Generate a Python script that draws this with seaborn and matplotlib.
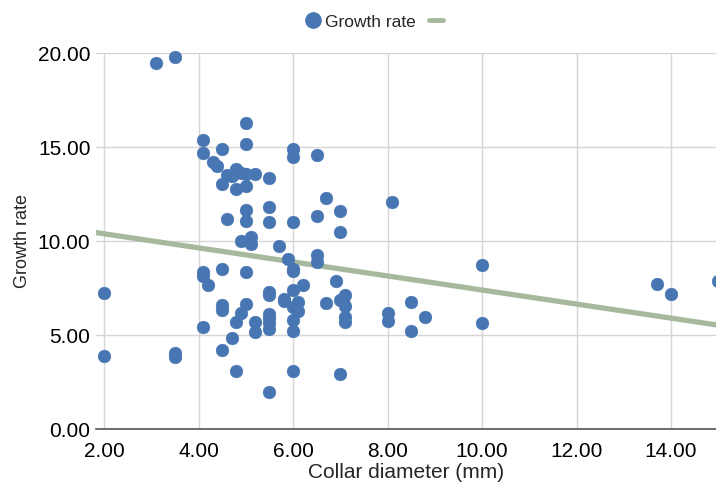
import numpy as np
import pandas as pd
import seaborn as sns
import matplotlib.pyplot as plt
from matplotlib.lines import Line2D

# values
collar_diameter = [3.1, 3.5, 5.0, 4.1, 5.0, 6.0, 6.0, 4.1, 4.5, 4.3,
                   4.4, 4.8, 4.6, 4.7, 4.9, 5.0, 5.2, 5.5, 4.5, 4.8,
                   5.0, 5.0, 5.5, 4.6, 5.0, 5.5, 6.0, 6.5, 6.7, 7.0,
                   6.5, 7.0, 4.9, 5.1, 5.1, 5.7, 5.9, 6.5, 6.5, 6.0,
                   6.0, 4.1, 4.1, 4.2, 4.5, 5.0, 6.9, 6.2, 6.0, 5.5,
                   5.5, 5.8, 5.8, 6.1, 6.0, 6.1, 6.7, 7.1, 7.0, 7.05,
                   7.1, 7.1, 7.1, 4.5, 4.5, 5.0, 4.9, 4.8, 5.2, 5.2,
                   5.5, 5.5, 5.5, 5.5, 6.0, 6.0, 4.1, 4.7, 4.5, 4.8,
                   6.0, 7.0, 5.5, 2.0, 2.0, 3.5, 3.5, 8.1, 10.0, 8.5,
                   8.0, 8.0, 8.8, 8.5, 10.0, 13.7, 14.0, 15.0]
growth_rate = [19.5, 19.8, 16.3, 15.4, 15.2, 14.9, 14.5, 14.7, 14.9, 14.2,
               14.0, 13.85, 13.5, 13.45, 13.65, 13.6, 13.6, 13.35, 13.05, 12.8,
               12.95, 11.65, 11.8, 11.2, 11.1, 11.05, 11.0, 14.6, 12.3, 11.6,
               11.35, 10.5, 10.0, 10.25, 9.85, 9.75, 9.05, 9.25, 8.9, 8.55,
               8.4, 8.35, 8.15, 7.7, 8.55, 8.35, 7.9, 7.65, 7.4, 7.3,
               7.15, 6.95, 6.8, 6.75, 6.5, 6.3, 6.7, 7.15, 6.9, 6.8,
               6.55, 5.95, 5.7, 6.6, 6.35, 6.65, 6.2, 5.7, 5.7, 5.2,
               6.15, 5.9, 5.65, 5.35, 5.8, 5.25, 5.45, 4.85, 4.2, 3.1,
               3.1, 2.95, 2.0, 7.25, 3.9, 4.05, 3.85, 12.1, 8.75, 6.75,
               6.2, 5.75, 5.95, 5.25, 5.65, 7.75, 7.2, 7.9]
x_ticks = [2, 4, 6, 8, 10, 12, 14]
y_ticks = [0, 5, 10, 15, 20]

df = pd.DataFrame({'Collar diameter (mm)': collar_diameter, 'Growth rate': growth_rate})

dot_c = '#4876b3'
fit_c = '#a6b99d'

sns.set_style('whitegrid')
plt.rcParams['font.family'] = ['Liberation Sans', 'DejaVu Sans']

fig = plt.figure(figsize=(7.16, 4.86), dpi=100)
ax = fig.add_axes([96/716, 56.7/486, 620/716, 376/486])
ax.set_xlim(1.83, 14.95)
ax.set_ylim(0, 20)

sns.regplot(data=df, x='Collar diameter (mm)', y='Growth rate', ax=ax, scatter=False,
            ci=None, truncate=False, line_kws=dict(color=fit_c, lw=3.8, zorder=2))
sns.scatterplot(data=df, x='Collar diameter (mm)', y='Growth rate', ax=ax, color=dot_c,
                s=85, edgecolor=dot_c, linewidth=0.3, zorder=3, clip_on=False)

ax.set_xticks(x_ticks)
ax.set_yticks(y_ticks)
ax.set_xticklabels([f'{v:.2f}' for v in x_ticks])
ax.set_yticklabels([f'{v:.2f}' for v in y_ticks])
ax.grid(True, color='#d6d6d6', lw=1)
for s in ['top', 'right', 'left']:
    ax.spines[s].set_visible(False)
ax.spines['bottom'].set_color('#555555')
ax.spines['bottom'].set_linewidth(1.2)
ax.tick_params(axis='x', length=0, pad=9.5, labelsize=15, colors='black')
ax.tick_params(axis='y', length=0, pad=4, labelsize=15, colors='black')
ax.set_xlabel('Collar diameter (mm)', fontsize=15, labelpad=1)
ax.set_ylabel('Growth rate', fontsize=13, labelpad=5)

handles = [Line2D([], [], marker='o', ls='', color=dot_c, markersize=11),
           Line2D([], [], color=fit_c, lw=3.5)]
fig.legend(handles, ['Growth rate', ''], loc='center', bbox_to_anchor=(377/716, 1 - 22/486),
           ncol=2, frameon=False, fontsize=12.5, handlelength=0.8, handletextpad=0.3,
           columnspacing=0.8)

fig.savefig('out.png', dpi=100)
